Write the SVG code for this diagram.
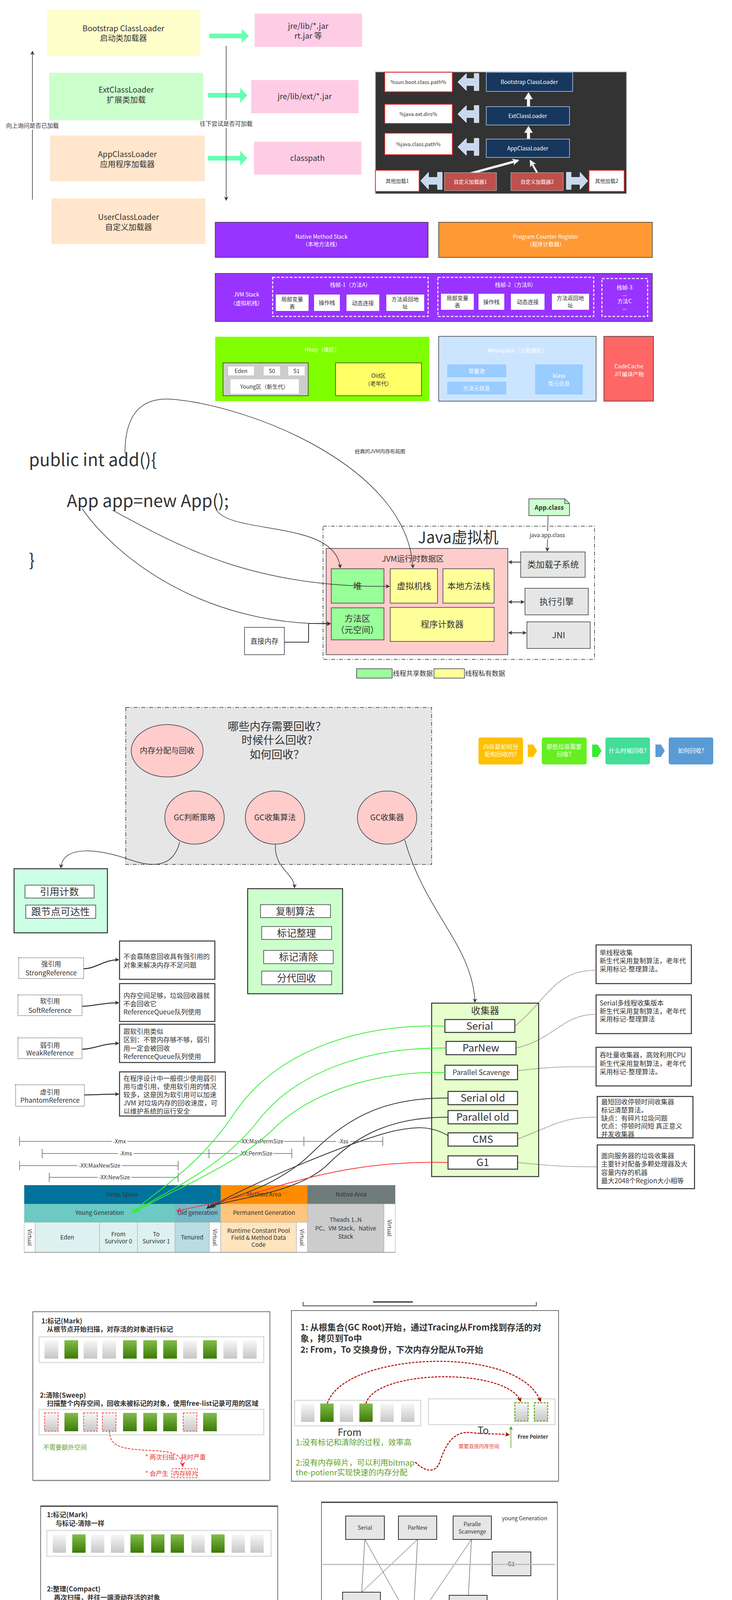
<svg xmlns="http://www.w3.org/2000/svg" width="1874" height="5851" viewBox="0 0 1874 5851">
<style>
text{font-family:"Noto Sans CJK SC","Noto Sans",sans-serif;fill:#333}
.c{text-anchor:middle}
.b{font-weight:bold}
.w{fill:#fff}
.gt{fill:#5FA22A}
.rt{fill:#E53935}
.f13{font-size:13px}.f14{font-size:14px}.f15{font-size:15px}.f16{font-size:16px}.f17{font-size:17px}.f18{font-size:18px}.f20{font-size:20px}.f22{font-size:22px}.f24{font-size:24px}.f25{font-size:25px}.f26{font-size:26px}.f28{font-size:28px}.f40{font-size:40px}.f44{font-size:44px}
.bx{stroke:#36393d;stroke-width:1.5}
.bk{stroke:#333;stroke-width:2.5}
.ln{fill:none;stroke:#333;stroke-width:1.5}
.dot{fill:none;stroke:#333;stroke-width:1.5;stroke-dasharray:2 2}
.dd{stroke-dasharray:10 4 2 4}
.gy{fill:url(#gGray)}
.gn{fill:url(#gGreen)}
.sp{stroke:#808080;stroke-width:3}
.lsp{stroke:#d4d4d4;stroke-width:3}
.dim{stroke:#8a8a8a;stroke-width:2}
.bar{fill:#fff;stroke:#dcdcdc;stroke-width:3}
.rd{fill:none;stroke:#ff4d4d;stroke-width:2;stroke-dasharray:5 3}
.gd{fill:none;stroke:#5A9E1A;stroke-width:2.5;stroke-dasharray:5 3}
.pn{fill:#fff;stroke:#444;stroke-width:1.5}
.ob{fill:#d0d0d0;stroke:#333;stroke-width:2}
.cg{fill:#e6e6e6;stroke:#333;stroke-width:2}
</style>
<defs>
<linearGradient id="gGray" x1="0" y1="0" x2="0" y2="1"><stop offset="0" stop-color="#f8f8f8"/><stop offset="1" stop-color="#c6c6c6"/></linearGradient>
<linearGradient id="gGreen" x1="0" y1="0" x2="0" y2="1"><stop offset="0" stop-color="#82bd4a"/><stop offset="1" stop-color="#3c7a06"/></linearGradient>
<marker id="ah" viewBox="0 0 10 10" refX="9" refY="5" markerWidth="11" markerHeight="11" markerUnits="userSpaceOnUse" orient="auto-start-reverse"><path d="M0,0L10,5L0,10L3,5Z" fill="#333"/></marker>
<marker id="ahG" viewBox="0 0 10 10" refX="9" refY="5" markerWidth="14" markerHeight="14" markerUnits="userSpaceOnUse" orient="auto"><path d="M0,0L10,5L0,10L3,5Z" fill="#33ee33"/></marker>
<marker id="ahR" viewBox="0 0 10 10" refX="9" refY="5" markerWidth="14" markerHeight="14" markerUnits="userSpaceOnUse" orient="auto"><path d="M0,0L10,5L0,10L3,5Z" fill="#ff3333"/></marker>
<marker id="ahK" viewBox="0 0 10 10" refX="9" refY="5" markerWidth="14" markerHeight="14" markerUnits="userSpaceOnUse" orient="auto"><path d="M0,0L10,5L0,10L3,5Z" fill="#333"/></marker>
<marker id="ahD" viewBox="0 0 10 10" refX="9" refY="5" markerWidth="12" markerHeight="12" markerUnits="userSpaceOnUse" orient="auto"><path d="M0,0L10,5L0,10L3,5Z" fill="#b00000"/></marker>
<marker id="ahE" viewBox="0 0 10 10" refX="9" refY="5" markerWidth="10" markerHeight="10" markerUnits="userSpaceOnUse" orient="auto"><path d="M0,0L10,5L0,10L3,5Z" fill="#4c9a16"/></marker>
<marker id="mw" viewBox="0 0 10 10" refX="8" refY="5" markerWidth="18" markerHeight="18" markerUnits="userSpaceOnUse" orient="auto"><path d="M0,0L10,5L0,10L3,5Z" fill="#eef3fa"/></marker>
<path id="ha" d="M0,-6.5H82V-18.5L100,0L82,18.5V6.5H0Z" fill="#fff" stroke="#cfcfcf" stroke-width="2" vector-effect="non-scaling-stroke"/>
<path id="ga" d="M0,-3H86V-9L100,0L86,9V3H0Z" fill="#333"/>
</defs>
<rect width="1874" height="5851" fill="#fff"/>

<!-- ===== Class loaders ===== -->
<g id="bootstrap-loader"><rect x="120" y="25" width="393" height="119" fill="#FFFFCC"/><text class="c f20" x="316" y="80">Bootstrap ClassLoader</text><text class="c f20" x="316" y="105">启动类加载器</text></g>
<g id="ext-loader"><rect x="126" y="186" width="394" height="122" fill="#CCFFCC"/><text class="c f20" x="323" y="237">ExtClassLoader</text><text class="c f20" x="323" y="263">扩展类加载</text></g>
<g id="app-loader"><rect x="128" y="347" width="396" height="117" fill="#FFE6CC"/><text class="c f20" x="326" y="402">AppClassLoader</text><text class="c f20" x="326" y="428">应用程序加载器</text></g>
<g id="user-loader"><rect x="132" y="508" width="394" height="117" fill="#FFE6CC"/><text class="c f20" x="329" y="563">UserClassLoader</text><text class="c f20" x="329" y="589">自定义加载器</text></g>
<g id="jre-lib"><rect x="652" y="35" width="275" height="85" fill="#FFCCE6"/><text class="c f20" x="789" y="74">jre/lib/*.jar</text><text class="c f20" x="789" y="99">rt.jar 等</text></g>
<g id="jre-ext"><rect x="643" y="205" width="275" height="85" fill="#FFCCE6"/><text class="c f20" x="780" y="254">jre/lib/ext/*.jar</text></g>
<g id="classpath"><rect x="650" y="363" width="275" height="84" fill="#FFCCE6"/><text class="c f20" x="787" y="412">classpath</text></g>

<g id="loader-image">
<rect x="961" y="184" width="643" height="312" fill="#333333" stroke="#bbb" stroke-width="2"/>
<rect x="985" y="185" width="173" height="50" fill="#fff" stroke="#e03030" stroke-width="2"/><text class="c f13" x="1071" y="215">%sun.boot.class.path%</text>
<rect x="985" y="267" width="173" height="49" fill="#fff" stroke="#e03030" stroke-width="2"/><text class="c f13" x="1071" y="297">%java.ext.dirs%</text>
<rect x="985" y="341" width="173" height="55" fill="#fff" stroke="#e03030" stroke-width="2"/><text class="c f13" x="1071" y="374">%java.class.path%</text>
<rect x="1245" y="185" width="221" height="49" fill="#17375E" stroke="#8ea9c8" stroke-width="2"/><text class="c f14 w" x="1355" y="215">Bootstrap ClassLoader</text>
<rect x="1245" y="273" width="213" height="47" fill="#17375E" stroke="#8ea9c8" stroke-width="2"/><text class="c f14 w" x="1351" y="302">ExtClassLoader</text>
<rect x="1245" y="356" width="213" height="47" fill="#17375E" stroke="#8ea9c8" stroke-width="2"/><text class="c f14 w" x="1351" y="385">AppClassLoader</text>
<polygon points="1172,210 1194,188 1194,201 1214,201 1214,188 1226,188 1226,232 1214,232 1214,219 1194,219 1194,232" fill="#C6D9F1" stroke="#fff"/>
<polygon points="1172,292 1194,270 1194,283 1214,283 1214,270 1226,270 1226,314 1214,314 1214,301 1194,301 1194,314" fill="#C6D9F1" stroke="#fff"/>
<polygon points="1172,376 1194,354 1194,367 1214,367 1214,354 1226,354 1226,398 1214,398 1214,385 1194,385 1194,398" fill="#C6D9F1" stroke="#fff"/>
<polygon points="1353,236 1364,254 1357,254 1357,272 1349,272 1349,254 1342,254" fill="#eef3fa"/>
<polygon points="1353,322 1364,340 1357,340 1357,355 1349,355 1349,340 1342,340" fill="#eef3fa"/>
<line x1="1205" y1="444" x2="1326" y2="411" stroke="#eef3fa" stroke-width="6" marker-end="url(#mw)"/>
<line x1="1375" y1="442" x2="1358" y2="412" stroke="#eef3fa" stroke-width="5" marker-end="url(#mw)"/>
<rect x="961" y="436" width="112" height="54" fill="#fff" stroke="#e03030" stroke-width="2"/><text class="c f13" x="1017" y="468">其他加载1</text>
<rect x="1138" y="442" width="133" height="46" fill="#C0504D" stroke="#ccc"/><text class="c f13 w" x="1204" y="470">自定义加载器1</text>
<rect x="1308" y="442" width="134" height="46" fill="#C0504D" stroke="#ccc"/><text class="c f13 w" x="1375" y="470">自定义加载器2</text>
<rect x="1508" y="436" width="90" height="54" fill="#fff" stroke="#e03030" stroke-width="2"/><text class="c f13" x="1553" y="468">其他加载2</text>
<polygon points="1077,463 1097,441 1097,454 1120,454 1120,441 1132,441 1132,485 1120,485 1120,472 1097,472 1097,485" fill="#C6D9F1" stroke="#fff"/>
<polygon points="1505,463 1485,441 1485,454 1462,454 1462,441 1450,441 1450,485 1462,485 1462,472 1485,472 1485,485" fill="#C6D9F1" stroke="#fff"/>
</g>

<!-- ===== Runtime areas ===== -->
<g id="native-method-stack"><rect x="551" y="569" width="545" height="90" fill="#9933FF" class="bx"/><text class="c f14 w" x="823" y="611">Native Method Stack</text><text class="c f14 w" x="823" y="630">（本地方法栈）</text></g>
<g id="program-counter"><rect x="1123" y="569" width="547" height="90" fill="#FF9933" class="bx"/><text class="c f14 w" x="1397" y="611">Program Counter Register</text><text class="c f14 w" x="1397" y="630">（程序计数器）</text></g>
<g id="jvm-stack">
<rect x="551" y="700" width="1119" height="123" fill="#9933FF" class="bx"/>
<text class="c f14 w" x="631" y="759">JVM Stack</text><text class="c f14 w" x="631" y="781">（虚拟机栈）</text>
<rect x="698" y="710" width="398" height="100" fill="none" stroke="#fff" stroke-width="2.5" stroke-dasharray="7 4"/>
<text class="c f14 w" x="897" y="734">栈帧-1（方法A）</text>
<rect x="706" y="754" width="84" height="42" fill="#fff"/><text class="c f14" x="748" y="771">局部变量</text><text class="c f14" x="748" y="790">表</text>
<rect x="804" y="754" width="66" height="42" fill="#fff"/><text class="c f14" x="837" y="780">操作栈</text>
<rect x="887" y="754" width="84" height="42" fill="#fff"/><text class="c f14" x="929" y="781">动态连接</text>
<rect x="989" y="754" width="97" height="42" fill="#fff"/><text class="c f14" x="1037" y="771">方法返回地</text><text class="c f14" x="1037" y="790">址</text>
<rect x="1121" y="710" width="399" height="100" fill="none" stroke="#fff" stroke-width="2.5" stroke-dasharray="7 4"/>
<text class="c f14 w" x="1320" y="734">栈帧-2（方法B）</text>
<rect x="1129" y="752" width="84" height="41" fill="#fff"/><text class="c f14" x="1171" y="768">局部变量</text><text class="c f14" x="1171" y="787">表</text>
<rect x="1225" y="752" width="66" height="41" fill="#fff"/><text class="c f14" x="1258" y="778">操作栈</text>
<rect x="1308" y="752" width="86" height="41" fill="#fff"/><text class="c f14" x="1351" y="778">动态连接</text>
<rect x="1413" y="752" width="95" height="41" fill="#fff"/><text class="c f14" x="1460" y="768">方法返回地</text><text class="c f14" x="1460" y="787">址</text>
<rect x="1541" y="713" width="117" height="97" fill="none" stroke="#fff" stroke-width="2.5" stroke-dasharray="7 4"/>
<text class="c f14 w" x="1599" y="741">栈帧-3</text><text class="c f14 w" x="1599" y="758">...</text><text class="c f14 w" x="1599" y="776">方法C</text><text class="c f14 w" x="1599" y="793">...</text>
</g>
<g id="heap">
<rect x="551" y="862" width="548" height="165" fill="#80FF00"/>
<text class="c f14 w" x="825" y="900">Heap（堆区）</text>
<rect x="571" y="929" width="218" height="84" fill="#CCCCCC" class="bx"/>
<rect x="584" y="938" width="66" height="23" fill="#fff"/><text class="c f14" x="617" y="955">Eden</text>
<rect x="675" y="938" width="42" height="23" fill="#fff"/><text class="c f14" x="696" y="955">S0</text>
<rect x="738" y="938" width="42" height="23" fill="#fff"/><text class="c f14" x="759" y="955">S1</text>
<rect x="590" y="971" width="175" height="37" fill="#fff"/><text class="c f14" x="677" y="995">Young区（新生代）</text>
<rect x="859" y="929" width="220" height="84" fill="#FFFF66" class="bx"/><text class="c f14" x="969" y="967">Old区</text><text class="c f14" x="969" y="987">（老年代）</text>
</g>
<g id="metaspace">
<rect x="1123" y="861" width="403" height="166" fill="#CCE5FF" class="bx"/>
<text class="c f14 w" x="1325" y="902">Metaspace（元数据区）</text>
<rect x="1145" y="933" width="151" height="33" fill="#99CCFF"/><text class="c f14 w" x="1220" y="955">常量池</text>
<rect x="1145" y="977" width="151" height="33" fill="#99CCFF"/><text class="c f14 w" x="1220" y="999">方法元信息</text>
<rect x="1370" y="933" width="122" height="77" fill="#99CCFF"/><text class="c f14 w" x="1431" y="967">klass</text><text class="c f14 w" x="1431" y="987">类元信息</text>
</g>
<g id="codecache"><rect x="1546" y="861" width="127" height="166" fill="#FF6666" class="bx"/><text class="c f14 w" x="1610" y="943">CodeCache</text><text class="c f14 w" x="1610" y="963">JIT编译产物</text></g>

<!-- ===== Code + JVM ===== -->
<g id="code-text">
<text class="f44" x="74" y="1193">public int add(){</text>
<text class="f44" x="171" y="1298">App app=new App();</text>
<text class="f44" x="74" y="1450">}</text>
<text class="c f13" x="973" y="1160">经典的JVM内存布局图</text>
</g>
<g id="jvm">
<rect x="827" y="1347" width="695" height="341" fill="none" stroke="#333" stroke-width="1.5" class="dd"/>
<text class="c f40" x="1173" y="1390">Java虚拟机</text>
<rect x="835" y="1404" width="465" height="272" fill="#FFCCCC" class="bx"/>
<text class="c f20" x="1057" y="1438">JVM运行时数据区</text>
</g>
<g id="jvm-heap"><rect x="848" y="1456" width="135" height="88" fill="#99FF99" class="bx"/><text class="c f22" x="915" y="1508">堆</text></g>
<g id="jvm-vmstack"><rect x="999" y="1456" width="121" height="88" fill="#FFFF99" class="bx"/><text class="c f22" x="1060" y="1508">虚拟机栈</text></g>
<g id="jvm-native"><rect x="1134" y="1456" width="131" height="88" fill="#FFFF99" class="bx"/><text class="c f22" x="1200" y="1508">本地方法栈</text></g>
<g id="jvm-method"><rect x="848" y="1556" width="135" height="82" fill="#99FF99" class="bx"/><text class="c f22" x="915" y="1591">方法区</text><text class="c f22" x="915" y="1620">（元空间）</text></g>
<g id="jvm-pc"><rect x="999" y="1555" width="266" height="87" fill="#FFFF99" class="bx"/><text class="c f22" x="1132" y="1606">程序计数器</text></g>
<g id="classloader-sub"><rect x="1333" y="1413" width="165" height="65" fill="#E6E6E6" class="bx"/><text class="c f22" x="1416" y="1453">类加载子系统</text></g>
<g id="exec-engine"><rect x="1344" y="1506" width="162" height="68" fill="#E6E6E6" class="bx"/><text class="c f22" x="1425" y="1548">执行引擎</text></g>
<g id="jni"><rect x="1349" y="1592" width="162" height="68" fill="#E6E6E6" class="bx"/><text class="c f22" x="1430" y="1634">JNI</text></g>
<g id="app-class"><polygon points="1354,1277 1446,1277 1458,1289 1458,1320 1354,1320" fill="#CCFFCC" class="bx"/><polyline points="1446,1277 1446,1289 1458,1289" fill="none" class="bx"/><text class="c f16 b" x="1406" y="1305">App.class</text></g>
<g id="direct-mem"><rect x="626" y="1606" width="102" height="70" fill="#fff" class="bx"/><text class="c f18" x="677" y="1648">直接内存</text></g>
<g id="legend"><rect x="913" y="1712" width="91" height="24" fill="#99FF99" class="bx"/><text class="f17" x="1006" y="1730">线程共享数据</text><rect x="1111" y="1712" width="78" height="24" fill="#FFFF99" class="bx"/><text class="f17" x="1191" y="1730">线程私有数据</text></g>

<!-- ===== GC overview ===== -->
<g id="gc-questions">
<rect x="322" y="1811" width="783" height="402" fill="#E6E6E6" stroke="#333" stroke-width="1.5" class="dd"/>
<text class="c f28" x="709" y="1870">哪些内存需要回收？</text>
<text class="c f28" x="709" y="1905">时候什么回收?</text>
<text class="c f28" x="709" y="1942">如何回收？</text>
</g>
<g id="mem-alloc"><ellipse cx="428" cy="1922" rx="92" ry="67" fill="#FFCCCC" class="bx"/><text class="c f20" x="428" y="1929">内存分配与回收</text></g>
<g id="gc-judge"><ellipse cx="498" cy="2093" rx="76" ry="68" fill="#FFCCCC" class="bx"/><text class="c f20" x="498" y="2100">GC判断策略</text></g>
<g id="gc-algo"><ellipse cx="704" cy="2093" rx="76" ry="68" fill="#FFCCCC" class="bx"/><text class="c f20" x="704" y="2100">GC收集算法</text></g>
<g id="gc-collector"><ellipse cx="991" cy="2093" rx="76" ry="68" fill="#FFCCCC" class="bx"/><text class="c f20" x="991" y="2100">GC收集器</text></g>
<g id="flow">
<rect x="1225" y="1888" width="114" height="69" rx="5" fill="#FFC000"/><text class="c f15 w" x="1282" y="1917">内存是如何分</text><text class="c f15 w" x="1282" y="1936">配和回收的?</text>
<polygon points="1351,1906 1365,1906 1375,1922 1365,1938 1351,1938" fill="#FFC000"/>
<rect x="1387" y="1888" width="115" height="69" rx="5" fill="#66EE22"/><text class="c f15 w" x="1444" y="1917">那些垃圾需要</text><text class="c f15 w" x="1444" y="1936">回收?</text>
<polygon points="1516,1906 1530,1906 1540,1922 1530,1938 1516,1938" fill="#33EE33"/>
<rect x="1550" y="1888" width="114" height="69" rx="5" fill="#44DD99"/><text class="c f15 w" x="1607" y="1927">什么时候回收?</text>
<polygon points="1678,1906 1692,1906 1702,1922 1692,1938 1678,1938" fill="#5B9BD5"/>
<rect x="1712" y="1888" width="114" height="69" rx="5" fill="#5B9BD5"/><text class="c f15 w" x="1769" y="1927">如何回收?</text>
</g>
<g id="judge-box">
<rect x="36" y="2224" width="239" height="164" fill="#CCFFE6" class="bk"/>
<rect x="64" y="2266" width="177" height="33" fill="#fff" class="bx"/><text class="c f25" x="152" y="2292">引用计数</text>
<rect x="66" y="2317" width="179" height="34" fill="#fff" class="bx"/><text class="c f25" x="155" y="2343">跟节点可达性</text>
</g>
<g id="algo-box">
<rect x="634" y="2275" width="243" height="269" fill="#CCFFCC" class="bk"/>
<rect x="667" y="2316" width="179" height="33" fill="#fff" class="bx"/><text class="c f25" x="756" y="2342">复制算法</text>
<rect x="670" y="2372" width="179" height="33" fill="#fff" class="bx"/><text class="c f25" x="759" y="2398">标记整理</text>
<rect x="675" y="2433" width="178" height="34" fill="#fff" class="bx"/><text class="c f25" x="764" y="2459">标记清除</text>
<rect x="670" y="2486" width="179" height="35" fill="#fff" class="bx"/><text class="c f25" x="759" y="2513">分代回收</text>
</g>
<g id="refs">
<rect x="48" y="2452" width="166" height="53" fill="#fff" class="dot"/><text class="c f17" x="131" y="2474">强引用</text><text class="c f17" x="131" y="2497">StrongReference</text>
<rect x="306" y="2409" width="244" height="98" fill="#fff" class="bk"/><text class="f17" x="316" y="2455">不会靠随意回收具有强引用的</text><text class="f17" x="316" y="2477">对象来解决内存不足问题</text>
<rect x="46" y="2547" width="164" height="53" fill="#fff" class="dot"/><text class="c f17" x="128" y="2569">软引用</text><text class="c f17" x="128" y="2593">SoftReference</text>
<rect x="306" y="2518" width="244" height="97" fill="#fff" class="bk"/><text class="f17" x="316" y="2555">内存空间足够，垃圾回收器就</text><text class="f17" x="316" y="2576">不会回收它</text><text class="f17" x="316" y="2597">ReferenceQueue队列使用</text>
<rect x="46" y="2657" width="164" height="53" fill="#fff" class="dot"/><text class="c f17" x="128" y="2682">弱引用</text><text class="c f17" x="128" y="2702">WeakReference</text>
<rect x="306" y="2622" width="244" height="98" fill="#fff" class="bk"/><text class="f17" x="316" y="2647">跟软引用类似</text><text class="f17" x="316" y="2668">区别：不管内存够不够，弱引</text><text class="f17" x="316" y="2690">用一定会被回收</text><text class="f17" x="316" y="2711">ReferenceQueue队列使用</text>
<rect x="40" y="2777" width="176" height="55" fill="#fff" class="dot"/><text class="c f17" x="128" y="2802">虚引用</text><text class="c f17" x="128" y="2823">PhantomReference</text>
<rect x="306" y="2744" width="271" height="113" fill="#fff" class="bk"/><text class="f17" x="316" y="2767">在程序设计中一般很少使用弱引</text><text class="f17" x="316" y="2788">用与虚引用，使用软引用的情况</text><text class="f17" x="316" y="2809">较多，这是因为软引用可以加速</text><text class="f17" x="316" y="2830">JVM 对垃圾内存的回收速度，可</text><text class="f17" x="316" y="2851">以维护系统的运行安全</text>
</g>
<g id="collectors">
<rect x="1105" y="2568" width="274" height="444" fill="#E6FFCC" class="bk"/>
<text class="c f24" x="1242" y="2596">收集器</text>
<rect x="1139" y="2610" width="179" height="33" fill="#fff" class="bk"/><text class="c f26" x="1228" y="2636">Serial</text>
<rect x="1142" y="2666" width="179" height="34" fill="#fff" class="bk"/><text class="c f26" x="1231" y="2692">ParNew</text>
<rect x="1139" y="2727" width="186" height="37" fill="#fff" class="bk"/><text class="c f18" x="1232" y="2752">Parallel Scavenge</text>
<rect x="1147" y="2794" width="178" height="34" fill="#fff" class="bk"/><text class="c f26" x="1236" y="2820">Serial old</text>
<rect x="1147" y="2843" width="178" height="34" fill="#fff" class="bk"/><text class="c f26" x="1236" y="2869">Parallel old</text>
<rect x="1147" y="2900" width="178" height="34" fill="#fff" class="bk"/><text class="c f26" x="1236" y="2926">CMS</text>
<rect x="1147" y="2959" width="178" height="34" fill="#fff" class="bk"/><text class="c f26" x="1236" y="2985">G1</text>
</g>
<g id="collector-notes">
<rect x="1526" y="2419" width="244" height="99" fill="#fff" class="bk"/><text class="f17" x="1535" y="2445">单线程收集</text><text class="f17" x="1535" y="2466">新生代采用复制算法，老年代</text><text class="f17" x="1535" y="2487">采用标记-整理算法。</text>
<rect x="1526" y="2547" width="244" height="99" fill="#fff" class="bk"/><text class="f17" x="1535" y="2574">Serial多线程收集版本</text><text class="f17" x="1535" y="2595">新生代采用复制算法，老年代</text><text class="f17" x="1535" y="2615">采用标记-整理算法</text>
<rect x="1526" y="2681" width="244" height="99" fill="#fff" class="bk"/><text class="f17" x="1535" y="2707">吞吐量收集器，高效利用CPU</text><text class="f17" x="1535" y="2729">新生代采用复制算法，老年代</text><text class="f17" x="1535" y="2750">采用标记-整理算法。</text>
<rect x="1529" y="2807" width="245" height="106" fill="#fff" class="bk"/><text class="f17" x="1539" y="2827">最短回收停顿时间收集器</text><text class="f17" x="1539" y="2848">标记清楚算法。</text><text class="f17" x="1539" y="2869">缺点：有碎片垃圾问题</text><text class="f17" x="1539" y="2889">优点：停顿时间短 真正意义</text><text class="f17" x="1539" y="2910">并发收集器</text>
<rect x="1529" y="2931" width="249" height="112" fill="#fff" class="bk"/><text class="f17" x="1539" y="2965">面向服务器的垃圾收集器</text><text class="f17" x="1539" y="2986">主要针对配备多颗处理器及大</text><text class="f17" x="1539" y="3008">容量内存的机器</text><text class="f17" x="1539" y="3029">最大2048个Region大小相等</text>
</g>
<g id="dimensions">
<line x1="50" y1="2922" x2="980" y2="2922" class="dim"/><line x1="50" y1="2910" x2="50" y2="2934" class="dim"/><line x1="778" y1="2910" x2="778" y2="2934" class="dim"/><line x1="980" y1="2910" x2="980" y2="2934" class="dim"/>
<rect x="286" y="2912" width="40" height="20" fill="#fff"/><text class="c f14" x="306" y="2927">-Xmx</text>
<rect x="612" y="2912" width="116" height="20" fill="#fff"/><text class="c f14" x="670" y="2927">-XX:MaxPermSize</text>
<rect x="861" y="2912" width="36" height="20" fill="#fff"/><text class="c f14" x="879" y="2927">-Xss</text>
<line x1="108" y1="2953" x2="747" y2="2953" class="dim"/><line x1="108" y1="2941" x2="108" y2="2965" class="dim"/><line x1="535" y1="2941" x2="535" y2="2965" class="dim"/><line x1="747" y1="2941" x2="747" y2="2965" class="dim"/>
<rect x="302" y="2943" width="40" height="20" fill="#fff"/><text class="c f14" x="322" y="2958">-Xms</text>
<rect x="610" y="2943" width="90" height="20" fill="#fff"/><text class="c f14" x="655" y="2958">-XX:PermSize</text>
<line x1="50" y1="2984" x2="456" y2="2984" class="dim"/><line x1="50" y1="2972" x2="50" y2="2996" class="dim"/><line x1="456" y1="2972" x2="456" y2="2996" class="dim"/>
<rect x="198" y="2974" width="114" height="20" fill="#fff"/><text class="c f14" x="255" y="2989">-XX:MaxNewSize</text>
<line x1="126" y1="3014" x2="456" y2="3014" class="dim"/><line x1="126" y1="3002" x2="126" y2="3026" class="dim"/><line x1="456" y1="3002" x2="456" y2="3026" class="dim"/>
<rect x="250" y="3004" width="86" height="20" fill="#fff"/><text class="c f14" x="293" y="3019">-XX:NewSize</text>
</g>
<g id="memory-table">
<rect x="62" y="3034" width="503" height="48" fill="#00739C"/><text class="c f15" x="313" y="3063">Heap Space</text>
<rect x="565" y="3034" width="222" height="48" fill="#FF8C00"/><text class="c f15" x="676" y="3063">Method Area</text>
<rect x="787" y="3034" width="225" height="48" fill="#707B7C"/><text class="c f15" x="899" y="3063">Native Area</text>
<rect x="62" y="3082" width="386" height="47" fill="#6CC9C3"/><text class="c f15" x="255" y="3110">Young Generation</text>
<rect x="448" y="3082" width="117" height="47" fill="#75B8C8"/><text class="c f15" x="506" y="3110">Old generation</text>
<rect x="565" y="3082" width="222" height="47" fill="#FFC57D"/><text class="c f15" x="676" y="3110">Permanent Generation</text>
<rect x="787" y="3082" width="196" height="124" fill="#CCCCCC" stroke="#aaa"/><text class="c f15" x="885" y="3128">Theads 1..N</text><text class="c f15" x="885" y="3150">PC、VM Stack、Native</text><text class="c f15" x="885" y="3171">Stack</text>
<rect x="983" y="3082" width="29" height="124" fill="#fff" stroke="#aaa"/>
<rect x="62" y="3129" width="28" height="77" fill="#fff" stroke="#aaa"/>
<rect x="90" y="3129" width="165" height="77" fill="#DDF2F0" stroke="#aaa"/><text class="c f15" x="172" y="3173">Eden</text>
<rect x="255" y="3129" width="97" height="77" fill="#DDF2F0" stroke="#aaa"/><text class="c f15" x="303" y="3165">From</text><text class="c f15" x="303" y="3183">Survivor 0</text>
<rect x="352" y="3129" width="96" height="77" fill="#DDF2F0" stroke="#aaa"/><text class="c f15" x="400" y="3165">To</text><text class="c f15" x="400" y="3183">Survivor 1</text>
<rect x="448" y="3129" width="88" height="77" fill="#B8DDE3" stroke="#aaa"/><text class="c f15" x="492" y="3173">Tenured</text>
<rect x="536" y="3129" width="29" height="77" fill="#fff" stroke="#aaa"/>
<rect x="565" y="3129" width="194" height="77" fill="#FFE4BD" stroke="#aaa"/><text class="c f15" x="662" y="3156">Runtime Constant Pool</text><text class="c f15" x="662" y="3174">Field &amp; Method Data</text><text class="c f15" x="662" y="3192">Code</text>
<rect x="759" y="3129" width="28" height="77" fill="#fff" stroke="#aaa"/>
<line x1="62" y1="3206" x2="1012" y2="3206" stroke="#999" stroke-width="2"/>
<text class="c f14" transform="translate(71 3168) rotate(90)">Virtual</text>
<text class="c f14" transform="translate(545 3168) rotate(90)">Virtual</text>
<text class="c f14" transform="translate(768 3168) rotate(90)">Virtual</text>
<text class="c f14" transform="translate(992 3144) rotate(90)">Virtual</text>
</g>

<!-- ===== Mark-Sweep / Copy ===== -->
<g id="bracket"><path d="M776 3333V3343H1373V3333" fill="none" stroke="#444" stroke-width="2"/><rect x="955" y="3331" width="102" height="4" fill="#555"/></g>
<g id="mark-sweep">
<rect x="84" y="3358" width="607" height="432" class="pn"/><line x1="84" y1="3790" x2="691" y2="3790" stroke="#888" stroke-width="3"/>
<text class="f17 b" x="106" y="3388">1:标记(Mark)</text>
<text class="f17 b" x="120" y="3409">从根节点开始扫描，对存活的对象进行标记</text>
<rect x="100" y="3422" width="575" height="66" class="bar"/>
<rect x="114" y="3431" width="35" height="47" class="gy"/><rect x="165" y="3431" width="35" height="47" class="gn"/><rect x="214" y="3431" width="35" height="47" class="gy"/><rect x="262" y="3431" width="35" height="47" class="gy"/><rect x="315" y="3431" width="35" height="47" class="gn"/><rect x="367" y="3431" width="35" height="47" class="gn"/><rect x="418" y="3431" width="35" height="47" class="gn"/><rect x="469" y="3431" width="35" height="47" class="gy"/><rect x="520" y="3431" width="35" height="47" class="gn"/><rect x="572" y="3431" width="35" height="47" class="gy"/><rect x="622" y="3431" width="35" height="47" class="gy"/>
<text class="f17 b" x="102" y="3578">2:清除(Sweep)</text>
<text class="f17 b" x="120" y="3599">扫描整个内存空间，回收未被标记的对象，使用free-list记录可用的区域</text>
<rect x="100" y="3608" width="575" height="65" class="bar"/>
<rect x="114" y="3617" width="35" height="47" class="gy"/><rect x="114" y="3617" width="35" height="47" class="rd"/>
<rect x="165" y="3617" width="35" height="47" class="gn"/>
<rect x="214" y="3617" width="35" height="47" class="gy"/><rect x="214" y="3617" width="35" height="47" class="rd"/>
<rect x="262" y="3617" width="35" height="47" class="gy"/><rect x="262" y="3617" width="35" height="47" class="rd"/>
<rect x="315" y="3617" width="35" height="47" class="gn"/><rect x="367" y="3617" width="35" height="47" class="gn"/><rect x="418" y="3617" width="35" height="47" class="gn"/>
<rect x="469" y="3617" width="35" height="47" class="gy"/><rect x="469" y="3617" width="35" height="47" class="rd"/>
<rect x="520" y="3617" width="35" height="47" class="gn"/>
<text class="f16 gt" x="110" y="3711">不需要额外空间</text>
<text class="f16 rt" x="372" y="3736">* 两次扫描，耗时严重</text>
<text class="f16 rt" x="372" y="3778">* 会产生</text>
<rect x="440" y="3760" width="65" height="23" class="rd"/><text class="f16 rt" x="443" y="3778">内存碎片</text>
</g>
<g id="copy-algo">
<rect x="746" y="3355" width="684" height="437" class="pn"/><line x1="746" y1="3792" x2="1430" y2="3792" stroke="#888" stroke-width="3"/>
<text class="f22 b" x="769" y="3406">1:  从根集合(GC Root)开始，通过Tracing从From找到存活的对</text>
<text class="f22 b" x="769" y="3434">象，拷贝到To中</text>
<text class="f22 b" x="769" y="3463">2:  From，To 交换身份，下次内存分配从To开始</text>
<rect x="754" y="3585" width="323" height="65" class="bar"/>
<rect x="771" y="3593" width="34" height="47" class="gy"/><rect x="820" y="3593" width="34" height="47" class="gn"/><rect x="870" y="3593" width="34" height="47" class="gy"/><rect x="920" y="3593" width="34" height="47" class="gn"/><rect x="974" y="3593" width="34" height="47" class="gy"/><rect x="1027" y="3593" width="34" height="47" class="gy"/>
<rect x="1097" y="3581" width="324" height="66" class="bar"/>
<rect x="1318" y="3591" width="34" height="47" class="gy"/><rect x="1318" y="3591" width="34" height="47" class="gd"/>
<rect x="1368" y="3591" width="34" height="47" class="gy"/><rect x="1368" y="3591" width="34" height="47" class="gd"/>
<text class="c f25" x="895" y="3676">From</text>
<text class="c f25" x="1237" y="3671">To</text>
<text class="f13 b" x="1325" y="3683">Free Pointer</text>
<text class="f13 rt" x="1174" y="3707">需要双倍内存空间</text>
<text class="f20 gt" x="757" y="3700">1:没有标记和清除的过程，效率高</text>
<text class="f20 gt" x="757" y="3752">2:没有内存碎片，可以利用bitmap</text>
<text class="f20 gt" x="757" y="3777">the-potienr实现快速的内存分配</text>
</g>

<!-- ===== Mark-Compact / collector graph ===== -->
<g id="mark-compact">
<rect x="104" y="3855" width="607" height="432" class="pn"/><line x1="104" y1="3856" x2="711" y2="3856" stroke="#444" stroke-width="3"/><line x1="104" y1="4287" x2="711" y2="4287" stroke="#888" stroke-width="3"/>
<text class="f17 b" x="120" y="3884">1:标记(Mark)</text>
<text class="f17 b" x="142" y="3906">与标记-清除一样</text>
<rect x="120" y="3918" width="574" height="66" class="bar"/>
<rect x="135" y="3928" width="34" height="47" class="gy"/><rect x="185" y="3928" width="34" height="47" class="gn"/><rect x="233" y="3928" width="34" height="47" class="gy"/><rect x="284" y="3928" width="34" height="47" class="gy"/><rect x="334" y="3928" width="34" height="47" class="gn"/><rect x="387" y="3928" width="34" height="47" class="gn"/><rect x="437" y="3928" width="34" height="47" class="gn"/><rect x="490" y="3928" width="34" height="47" class="gy"/><rect x="541" y="3928" width="34" height="47" class="gn"/><rect x="593" y="3928" width="34" height="47" class="gy"/><rect x="641" y="3928" width="34" height="47" class="gy"/>
<text class="f17 b" x="120" y="4074">2:整理(Compact)</text>
<text class="f17 b" x="138" y="4096">再次扫描，并往一端滑动存活的对象</text>
<rect x="120" y="4105" width="574" height="66" class="bar"/>
<rect x="135" y="4115" width="34" height="45" class="gn"/><rect x="185" y="4115" width="34" height="45" class="gn"/><rect x="235" y="4115" width="34" height="45" class="gn"/><rect x="288" y="4115" width="34" height="45" class="gn"/><rect x="340" y="4115" width="34" height="45" class="gn"/>
<rect x="394" y="4115" width="291" height="47" fill="none" stroke="#6AAA2A" stroke-width="3" stroke-dasharray="8 4"/>
<text class="c f13" x="538" y="4144" style="fill:#777">连续的空闲内存区域</text>
<line x1="378" y1="4183" x2="124" y2="4183" stroke="#a00000" stroke-width="3" marker-end="url(#ahD)"/>
<text class="f16 gt" x="130" y="4208">没有内存碎片，可以利用的</text>
<text class="f16 gt" x="150" y="4228">bitmap-the-pointer</text>
<text class="f16 rt" x="402" y="4213">* 需要付出移动对象的成本</text>
</g>
<g id="collector-graph">
<rect x="823" y="3845" width="604" height="386" class="pn"/><line x1="823" y1="3846" x2="1427" y2="3846" stroke="#444" stroke-width="3"/><line x1="823" y1="4231" x2="1427" y2="4231" stroke="#444" stroke-width="3"/>
<text class="c f14" x="1343" y="3892">young Generation</text>
<text class="c f14" x="1337" y="4202">tenured Generation</text>
<line x1="934" y1="3941" x2="926" y2="4076" class="ln" style="stroke-width:1"/>
<line x1="934" y1="3941" x2="1057" y2="4161" class="ln" style="stroke-width:1"/>
<line x1="1069" y1="3941" x2="926" y2="4076" class="ln" style="stroke-width:1"/>
<line x1="1069" y1="3941" x2="1057" y2="4161" class="ln" style="stroke-width:1"/>
<line x1="1207" y1="3941" x2="1057" y2="4161" class="ln" style="stroke-width:1"/>
<line x1="1207" y1="3941" x2="1199" y2="4084" class="ln" style="stroke-width:1"/>
<line x1="974" y1="4107" x2="1057" y2="4161" class="ln" style="stroke-width:1"/>
<g id="cg-serial"><rect x="885" y="3881" width="99" height="60" class="cg"/><text class="c f14" x="934" y="3916">Serial</text></g>
<g id="cg-parnew"><rect x="1020" y="3881" width="98" height="60" class="cg"/><text class="c f14" x="1069" y="3916">ParNew</text></g>
<g id="cg-ps"><rect x="1160" y="3881" width="98" height="60" class="cg"/><text class="c f14" x="1209" y="3907">Paralle</text><text class="c f14" x="1209" y="3926">Scanvenge</text></g>
<g id="cg-g1"><rect x="1260" y="3973" width="99" height="61" class="cg"/><text class="c f14" x="1309" y="4009">G1</text></g>
<g id="cg-cms"><rect x="877" y="4076" width="97" height="60" class="cg"/><text class="c f14" x="925" y="4111">CMS</text></g>
<g id="cg-parold"><rect x="1150" y="4084" width="97" height="61" class="cg"/><text class="c f14" x="1198" y="4120">Paralle Old</text></g>
<g id="cg-serialold"><rect x="1008" y="4161" width="98" height="60" class="cg"/><text class="c f14" x="1057" y="4196">Serial Old</text></g>
<line x1="826" y1="4005" x2="1421" y2="4005" stroke="#bbb" stroke-width="3"/>
</g>

<!-- ===== Reference counting / reachability ===== -->
<g id="ref-count">
<rect x="80" y="4407" width="605" height="196" class="pn"/><line x1="80" y1="4408" x2="685" y2="4408" stroke="#444" stroke-width="3"/><line x1="80" y1="4603" x2="685" y2="4603" stroke="#666" stroke-width="3"/>
<rect x="316" y="4418" width="133" height="41" class="ob"/><text class="c f14" x="382" y="4444">GC引用计数</text>
<polygon points="380,4460 391,4473 384,4473 384,4497 391,4497 380,4510 369,4497 376,4497 376,4473 369,4473" fill="#ccc" stroke="#333"/>
<rect x="92" y="4510" width="578" height="85" class="ob"/>
<rect x="104" y="4527" width="100" height="52" fill="#fff" class="bx"/><text class="c f13" x="154" y="4551">对象A</text><text class="c f13" x="154" y="4568">(1)</text>
<rect x="222" y="4527" width="100" height="52" fill="#fff" class="bx"/><text class="c f13" x="272" y="4551">对象B</text><text class="c f13" x="272" y="4568">(3)</text>
<rect x="332" y="4527" width="100" height="52" fill="#fff" class="bx"/><text class="c f13" x="382" y="4551">对象C</text><text class="c f13" x="382" y="4568">(0)</text>
<rect x="446" y="4527" width="99" height="52" fill="#fff" class="bx"/><text class="c f13" x="495" y="4558">......</text>
<rect x="559" y="4527" width="99" height="52" fill="#fff" class="bx"/><text class="c f13" x="608" y="4551">对象Z</text><text class="c f13" x="608" y="4568">(1)</text>
</g>
<g id="reachability">
<rect x="794" y="4312" width="596" height="401" class="pn"/><line x1="794" y1="4313" x2="1390" y2="4313" stroke="#444" stroke-width="3"/><line x1="794" y1="4713" x2="1390" y2="4713" stroke="#444" stroke-width="3"/>
<rect x="822" y="4317" width="557" height="79" fill="#d0d0d0"/><line x1="822" y1="4396" x2="1379" y2="4396" stroke="#999" stroke-width="3"/>
<rect x="900" y="4323" width="102" height="56" fill="#707070" class="bk"/><text class="c f13" x="951" y="4356" style="fill:#ddd">GC Roots</text>
<text class="f13" x="1055" y="4361">可达性分析算法</text>
<g id="obj1"><rect x="900" y="4424" width="102" height="56" class="ob"/><text class="c f14" x="951" y="4457">Object 1</text></g>
<g id="obj5"><rect x="1196" y="4424" width="101" height="56" class="ob"/><text class="c f14" x="1246" y="4457">Object 5</text></g>
<g id="obj2"><rect x="805" y="4533" width="101" height="56" class="ob"/><text class="c f14" x="855" y="4566">Object 2</text></g>
<g id="obj3"><rect x="973" y="4533" width="101" height="56" class="ob"/><text class="c f14" x="1023" y="4566">Object 3</text></g>
<g id="obj6"><rect x="1138" y="4533" width="102" height="56" class="ob"/><text class="c f14" x="1189" y="4566">Object 6</text></g>
<g id="obj7"><rect x="1276" y="4533" width="101" height="56" class="ob"/><text class="c f14" x="1326" y="4566">Object 7</text></g>
<g id="obj4"><rect x="973" y="4648" width="101" height="56" class="ob"/><text class="c f14" x="1023" y="4681">Object 4</text></g>
</g>
<line x1="130" y1="4773" x2="453" y2="4773" stroke="#e2e2e2" stroke-width="2"/>

<!-- ===== Serial ===== -->
<g id="serial-panel">
<rect x="100" y="4801" width="683" height="184" rx="3" class="pn"/><line x1="100" y1="4802" x2="783" y2="4802" stroke="#444" stroke-width="2.5"/><line x1="100" y1="4985" x2="783" y2="4985" stroke="#666" stroke-width="3"/>
<text class="c f13" x="442" y="4821" style="fill:#888">Serial</text>
<use href="#ha" transform="translate(148 4842) scale(1.05 1)"/><use href="#ha" transform="translate(148 4884) scale(1.05 1)"/><use href="#ha" transform="translate(148 4926) scale(1.05 1)"/>
<text class="f13" x="107" y="4847">CPU0</text><text class="f13" x="107" y="4889">CPU1</text><text class="f13" x="107" y="4931">CPU2</text>
<text class="f13" x="168" y="4847">用户线程1</text><text class="f13" x="168" y="4889">用户线程1</text><text class="f13" x="168" y="4931">用户线程1</text>
<line x1="265" y1="4818" x2="265" y2="4952" class="sp"/>
<use href="#ga" transform="translate(267 4885) scale(1.42 1)"/>
<text class="c f13" x="323" y="4877">GC线程</text>
<text class="c f13" x="336" y="4906">新生代采用复制算法</text><text class="c f13" x="336" y="4921">暂停所有用户线程</text>
<line x1="413" y1="4818" x2="413" y2="4952" class="lsp"/>
<use href="#ha" transform="translate(413 4845) scale(1.06 1)"/><use href="#ha" transform="translate(413 4884) scale(1.06 1)"/><use href="#ha" transform="translate(413 4923) scale(1.06 1)"/>
<line x1="524" y1="4818" x2="524" y2="4952" class="sp"/>
<use href="#ga" transform="translate(526 4885) scale(1.41 1)"/>
<text class="c f13" x="580" y="4877">GC线程</text>
<text class="c f13" x="596" y="4906">老年代采用标记整理</text><text class="c f13" x="596" y="4921">暂停所有用户线程</text>
<line x1="669" y1="4818" x2="669" y2="4952" class="lsp"/>
<use href="#ha" transform="translate(669 4842) scale(1.08 1)"/><use href="#ha" transform="translate(669 4881) scale(1.08 1)"/><use href="#ha" transform="translate(669 4921) scale(1.08 1)"/>
<text class="c f13" x="264" y="4973">safePoint</text><text class="c f13" x="528" y="4973">safePoint</text>
</g>

<!-- ===== ParNew ===== -->
<g id="parnew-panel">
<rect x="84" y="5132" width="685" height="184" rx="3" class="pn"/><line x1="84" y1="5133" x2="769" y2="5133" stroke="#444" stroke-width="2.5"/><line x1="84" y1="5316" x2="769" y2="5316" stroke="#666" stroke-width="3"/>
<text class="c f13" x="426" y="5151" style="fill:#888">ParNew</text>
<use href="#ha" transform="translate(132 5174) scale(1.05 1)"/><use href="#ha" transform="translate(132 5215) scale(1.05 1)"/><use href="#ha" transform="translate(132 5258) scale(1.05 1)"/>
<text class="f13" x="93" y="5179">CPU0</text><text class="f13" x="93" y="5220">CPU1</text><text class="f13" x="93" y="5263">CPU2</text>
<text class="f13" x="154" y="5179">用户线程1</text><text class="f13" x="154" y="5220">用户线程1</text><text class="f13" x="154" y="5263">用户线程1</text>
<line x1="251" y1="5148" x2="251" y2="5292" class="sp"/>
<use href="#ga" transform="translate(253 5174) scale(1.43 1)"/><use href="#ga" transform="translate(253 5215) scale(1.43 1)"/><use href="#ga" transform="translate(253 5258) scale(1.43 1)"/>
<text class="c f13" x="310" y="5163">GC线程</text><text class="c f13" x="310" y="5204">GC线程</text><text class="c f13" x="306" y="5247">GC线程</text>
<text class="c f13" x="318" y="5278">新生代采用复制算法</text><text class="c f13" x="318" y="5293">暂停所有用户线程</text>
<line x1="396" y1="5148" x2="396" y2="5292" class="lsp"/>
<use href="#ha" transform="translate(396 5174) scale(1.06 1)"/><use href="#ha" transform="translate(396 5215) scale(1.06 1)"/><use href="#ha" transform="translate(396 5258) scale(1.06 1)"/>
<line x1="510" y1="5148" x2="510" y2="5292" class="sp"/>
<use href="#ga" transform="translate(512 5215) scale(1.41 1)"/>
<text class="c f13" x="565" y="5208">GC线程</text>
<text class="c f13" x="580" y="5237">老年代采用标记整理</text><text class="c f13" x="580" y="5252">暂停所有用户线程</text>
<line x1="655" y1="5148" x2="655" y2="5292" class="lsp"/>
<use href="#ha" transform="translate(655 5174) scale(1.08 1)"/><use href="#ha" transform="translate(655 5215) scale(1.08 1)"/><use href="#ha" transform="translate(655 5258) scale(1.08 1)"/>
<text class="c f13" x="250" y="5306">safePoint</text><text class="c f13" x="512" y="5306">safePoint</text>
</g>

<!-- ===== Class A / B ===== -->
<g id="class-a"><rect x="936" y="5200" width="215" height="117" fill="#fff" class="bk"/><text class="f17" x="947" y="5232">Class A{</text><text class="f17" x="947" y="5254"> B b=new B();</text><text class="f17" x="947" y="5275">}</text><text class="f17" x="947" y="5300">B+1</text></g>
<g id="class-b"><rect x="1333" y="5200" width="214" height="117" fill="#fff" class="bk"/><text class="f17" x="1344" y="5232">Class B{</text><text class="f17" x="1344" y="5254"> A a=new A();</text><text class="f17" x="1344" y="5275">}</text><text class="f17" x="1344" y="5300">A+1</text></g>

<!-- ===== CMS ===== -->
<g id="cms-panel">
<rect x="69" y="5386" width="789" height="168" rx="3" class="pn"/><line x1="69" y1="5387" x2="858" y2="5387" stroke="#444" stroke-width="2.5"/><line x1="69" y1="5554" x2="858" y2="5554" stroke="#666" stroke-width="2.5"/>
<text class="c f14" x="464" y="5404" style="fill:#555">CMS</text>
<use href="#ha" transform="translate(110 5418) scale(1.07 1)"/><use href="#ha" transform="translate(110 5459) scale(1.07 1)"/><use href="#ha" transform="translate(110 5502) scale(1.07 1)"/>
<text class="f14" x="71" y="5423">CPU0</text><text class="f14" x="71" y="5464">CPU1</text><text class="f14" x="71" y="5507">CPU2</text>
<text class="f13" x="133" y="5423">用户线程1</text><text class="f13" x="133" y="5464">用户线程1</text><text class="f13" x="133" y="5507">用户线程1</text>
<line x1="231" y1="5393" x2="231" y2="5527" class="sp"/>
<use href="#ga" transform="translate(234 5459) scale(1.39 1)"/><text class="c f13" x="286" y="5452">初始标记</text>
<line x1="378" y1="5393" x2="378" y2="5527" class="lsp"/>
<use href="#ha" transform="translate(378 5418) scale(1.04 1)"/><use href="#ha" transform="translate(378 5459) scale(1.04 1)"/><use href="#ha" transform="translate(378 5502) scale(1.04 1)"/>
<line x1="378" y1="5506" x2="470" y2="5506" stroke="#333" stroke-width="5"/><text class="c f13" x="425" y="5491">并发标记</text>
<line x1="488" y1="5393" x2="488" y2="5527" class="sp"/>
<use href="#ga" transform="translate(491 5423) scale(1.4 1)"/><use href="#ga" transform="translate(491 5459) scale(1.4 1)"/><use href="#ga" transform="translate(489 5507) rotate(1.2) scale(1.42 1)"/>
<text class="c f13" x="551" y="5414">重新标记</text><text class="c f13" x="545" y="5452">重新标记</text><text class="c f13" x="551" y="5498">重新标记</text>
<line x1="634" y1="5393" x2="634" y2="5527" class="lsp"/>
<use href="#ha" transform="translate(636 5418) scale(1.05 1)"/><use href="#ha" transform="translate(636 5459) scale(1.05 1)"/><use href="#ha" transform="translate(636 5502) scale(1.05 1)"/>
<line x1="636" y1="5504" x2="726" y2="5504" stroke="#333" stroke-width="5"/><text class="c f13" x="675" y="5486">并发清理</text>
<line x1="747" y1="5393" x2="747" y2="5527" class="lsp"/>
<use href="#ha" transform="translate(749 5418) scale(1.04 1)"/><use href="#ha" transform="translate(749 5459) scale(1.04 1)"/><use href="#ha" transform="translate(749 5502) scale(1.04 1)"/>
<line x1="749" y1="5504" x2="838" y2="5504" stroke="#333" stroke-width="5"/><text class="c f13" x="786" y="5486">重置线程</text>
<text class="c f14" x="230" y="5548">safePoint</text><text class="c f14" x="375" y="5548">safePoint</text><text class="c f14" x="491" y="5548">safePoint</text><text class="c f14" x="637" y="5543">safePoint</text><text class="c f14" x="747" y="5543">safePoint</text>
</g>

<!-- ===== G1 ===== -->
<g id="g1-panel">
<rect x="69" y="5639" width="789" height="168" rx="3" class="pn"/><line x1="69" y1="5640" x2="858" y2="5640" stroke="#444" stroke-width="2.5"/><line x1="69" y1="5807" x2="858" y2="5807" stroke="#666" stroke-width="2.5"/>
<text class="c f14" x="463" y="5657" style="fill:#555">G1</text>
<use href="#ha" transform="translate(110 5672) scale(1.07 1)"/><use href="#ha" transform="translate(110 5713) scale(1.07 1)"/><use href="#ha" transform="translate(110 5756) scale(1.07 1)"/>
<text class="f14" x="71" y="5677">CPU0</text><text class="f14" x="71" y="5718">CPU1</text><text class="f14" x="71" y="5761">CPU2</text>
<text class="f13" x="133" y="5677">用户线程1</text><text class="f13" x="133" y="5718">用户线程1</text><text class="f13" x="133" y="5761">用户线程1</text>
<line x1="231" y1="5646" x2="231" y2="5780" class="sp"/>
<use href="#ga" transform="translate(234 5713) scale(1.39 1)"/><text class="c f13" x="286" y="5706">初始标记</text>
<line x1="378" y1="5646" x2="378" y2="5780" class="lsp"/>
<use href="#ha" transform="translate(378 5672) scale(1.04 1)"/><use href="#ha" transform="translate(378 5713) scale(1.04 1)"/><use href="#ha" transform="translate(378 5756) scale(1.04 1)"/>
<line x1="378" y1="5760" x2="470" y2="5760" stroke="#333" stroke-width="5"/><text class="c f13" x="425" y="5744">并发标记</text>
<line x1="488" y1="5646" x2="488" y2="5780" class="sp"/>
<use href="#ga" transform="translate(491 5676) scale(1.4 1)"/><use href="#ga" transform="translate(491 5713) scale(1.4 1)"/><use href="#ga" transform="translate(489 5761) rotate(1.2) scale(1.42 1)"/>
<text class="c f13" x="551" y="5667">最终标记</text><text class="c f13" x="545" y="5706">最终标记</text><text class="c f13" x="551" y="5751">最终标记</text>
<line x1="634" y1="5646" x2="634" y2="5780" class="lsp"/>
<use href="#ga" transform="translate(636 5673) scale(1.07 1)"/><use href="#ga" transform="translate(636 5714) scale(1.07 1)"/><use href="#ga" transform="translate(636 5764) scale(1.07 1)"/>
<text class="c f13" x="687" y="5667">筛选回收</text><text class="c f13" x="683" y="5704">筛选回收</text><text class="c f13" x="680" y="5757">筛选回收</text>
<line x1="747" y1="5646" x2="747" y2="5780" class="lsp"/>
<use href="#ha" transform="translate(749 5672) scale(1.04 1)"/><use href="#ha" transform="translate(749 5713) scale(1.04 1)"/><use href="#ha" transform="translate(749 5767) scale(1.04 1)"/>
<text class="c f14" x="230" y="5801">safePoint</text><text class="c f14" x="375" y="5801">safePoint</text><text class="c f14" x="491" y="5801">safePoint</text><text class="c f14" x="637" y="5796">safePoint</text><text class="c f14" x="747" y="5796">safePoint</text>
</g>

<!-- ===== Connectors ===== -->
<g id="connectors">
<polygon points="536,86 619,86 619,74 637,92 619,110 619,98 536,98" fill="#66FFB3"/>
<polygon points="532,238 615,238 615,225 633,244 615,263 615,250 532,250" fill="#66FFB3"/>
<polygon points="532,399 615,399 615,386 633,405 615,424 615,411 532,411" fill="#66FFB3"/>
<line x1="83" y1="511" x2="83" y2="131" class="ln" marker-end="url(#ah)"/>
<line x1="579" y1="117" x2="579" y2="513" class="ln" marker-end="url(#ah)"/>
<rect x="12" y="312" width="142" height="20" fill="#fff"/><text class="c f15" x="83" y="327">向上询问是否已加载</text>
<rect x="508" y="307" width="142" height="20" fill="#fff"/><text class="c f15" x="579" y="322">往下尝试是否可加载</text>
<path d="M320 1160C320 1040 380 1018 440 1022C650 1040 1045 1200 1057 1454" class="ln" marker-end="url(#ah)"/>
<path d="M210 1302C300 1430 520 1600 846 1597" class="ln" marker-end="url(#ah)"/>
<path d="M288 1306C460 1400 650 1505 997 1501" class="ln" marker-end="url(#ah)"/>
<path d="M553 1304C590 1370 860 1330 871 1454" class="ln" marker-end="url(#ah)"/>
<line x1="1403" y1="1320" x2="1401" y2="1411" class="ln" marker-end="url(#ah)"/>
<rect x="1346" y="1360" width="112" height="20" fill="#fff"/><text class="c f14" x="1401" y="1375">java app.class</text>
<line x1="1333" y1="1439" x2="1302" y2="1439" class="ln" style="stroke-width:2" marker-end="url(#ah)"/>
<line x1="1302" y1="1541" x2="1342" y2="1541" class="ln" style="stroke-width:2" marker-start="url(#ah)" marker-end="url(#ah)"/>
<line x1="1302" y1="1620" x2="1347" y2="1620" class="ln" style="stroke-width:2" marker-start="url(#ah)" marker-end="url(#ah)"/>
<path d="M728 1644H790V1596H846" class="ln" style="stroke-width:2" marker-end="url(#ah)"/>
<path d="M460 2156C445 2215 400 2225 330 2200C260 2175 160 2160 156 2222" class="ln" marker-end="url(#ah)"/>
<path d="M705 2162C702 2225 754 2235 754 2273" class="ln" marker-end="url(#ah)"/>
<path d="M1036 2150C1090 2340 1210 2420 1216 2566" class="ln" marker-end="url(#ah)"/>
<path d="M214 2480C245 2480 265 2457 304 2457" class="ln" style="stroke-width:2.5" marker-end="url(#ah)"/>
<path d="M210 2576C240 2576 262 2567 304 2567" class="ln" style="stroke-width:2.5" marker-end="url(#ah)"/>
<path d="M210 2686C240 2686 262 2671 304 2671" class="ln" style="stroke-width:2.5" marker-end="url(#ah)"/>
<path d="M216 2803C240 2803 262 2801 304 2801" class="ln" style="stroke-width:2.5" marker-end="url(#ah)"/>
<path d="M1318 2627C1400 2560 1420 2484 1524 2484" class="dot"/>
<path d="M1321 2683C1420 2660 1440 2597 1524 2597" class="dot"/>
<path d="M1325 2741C1420 2730 1440 2731 1524 2731" class="dot"/>
<path d="M1325 2916C1420 2880 1440 2860 1527 2860" class="dot"/>
<path d="M1325 2976C1420 2985 1440 2987 1527 2987" class="dot"/>
<path d="M1139 2627C900 2620 700 2700 600 2850S380 3060 338 3106" fill="none" stroke="#33ee33" stroke-width="2" marker-end="url(#ahG)"/>
<path d="M1142 2683C950 2680 760 2740 660 2870S400 3060 342 3104" fill="none" stroke="#33ee33" stroke-width="2" marker-end="url(#ahG)"/>
<path d="M1139 2746C980 2740 800 2790 700 2890S410 3060 346 3102" fill="none" stroke="#33ee33" stroke-width="2" marker-end="url(#ahG)"/>
<path d="M1147 2811C1000 2810 900 2850 800 2950S560 3070 529 3094" fill="none" stroke="#333" stroke-width="2" marker-end="url(#ahK)"/>
<path d="M1147 2860C1010 2860 920 2900 840 2980S570 3070 535 3092" fill="none" stroke="#333" stroke-width="2" marker-end="url(#ahK)"/>
<path d="M1147 2907C1100 2880 1060 2885 1010 2895C900 2920 620 3040 540 3090" fill="none" stroke="#333" stroke-width="2" marker-end="url(#ahK)"/>
<path d="M1147 2976C950 2970 800 3010 700 3040S500 3090 452 3100" fill="none" stroke="#ff3333" stroke-width="2" marker-end="url(#ahR)"/>
<path d="M280 3664C282 3705 310 3710 400 3714C455 3717 466 3730 468 3755" fill="none" stroke="#e53935" stroke-width="2" stroke-dasharray="6 3" marker-end="url(#ahR)"/>
<path d="M838 3593C880 3460 1330 3440 1384 3588" fill="none" stroke="#b00000" stroke-width="2.5" stroke-dasharray="6 3" marker-end="url(#ahD)"/>
<path d="M937 3593C960 3505 1300 3500 1333 3588" fill="none" stroke="#b00000" stroke-width="2.5" stroke-dasharray="6 3" marker-end="url(#ahD)"/>
<line x1="1308" y1="3707" x2="1308" y2="3652" stroke="#4c9a16" stroke-width="1.5" marker-end="url(#ahE)"/>
<path d="M1063 3743C1090 3770 1115 3770 1125 3745C1140 3700 1160 3660 1210 3668C1250 3672 1280 3670 1304 3673" fill="none" stroke="#b00000" stroke-width="2.5" stroke-dasharray="6 3" marker-end="url(#ahD)"/>
<line x1="951" y1="4379" x2="951" y2="4422" class="ln" style="stroke-width:1" marker-end="url(#ah)"/>
<path d="M951 4480C951 4515 856 4505 856 4531" class="ln" style="stroke-width:2" marker-end="url(#ah)"/>
<path d="M951 4480C951 4515 1024 4505 1024 4531" class="ln" style="stroke-width:2" marker-end="url(#ah)"/>
<path d="M1246 4480C1246 4515 1189 4505 1189 4531" class="ln" style="stroke-width:2" marker-end="url(#ah)"/>
<path d="M1246 4480C1246 4515 1326 4505 1326 4531" class="ln" style="stroke-width:2" marker-end="url(#ah)"/>
<line x1="1024" y1="4589" x2="1024" y2="4646" class="ln" style="stroke-width:1" marker-end="url(#ah)"/>
<line x1="1151" y1="5259" x2="1331" y2="5259" stroke="#333" stroke-width="3" marker-end="url(#ah)"/>
</g>
</svg>
